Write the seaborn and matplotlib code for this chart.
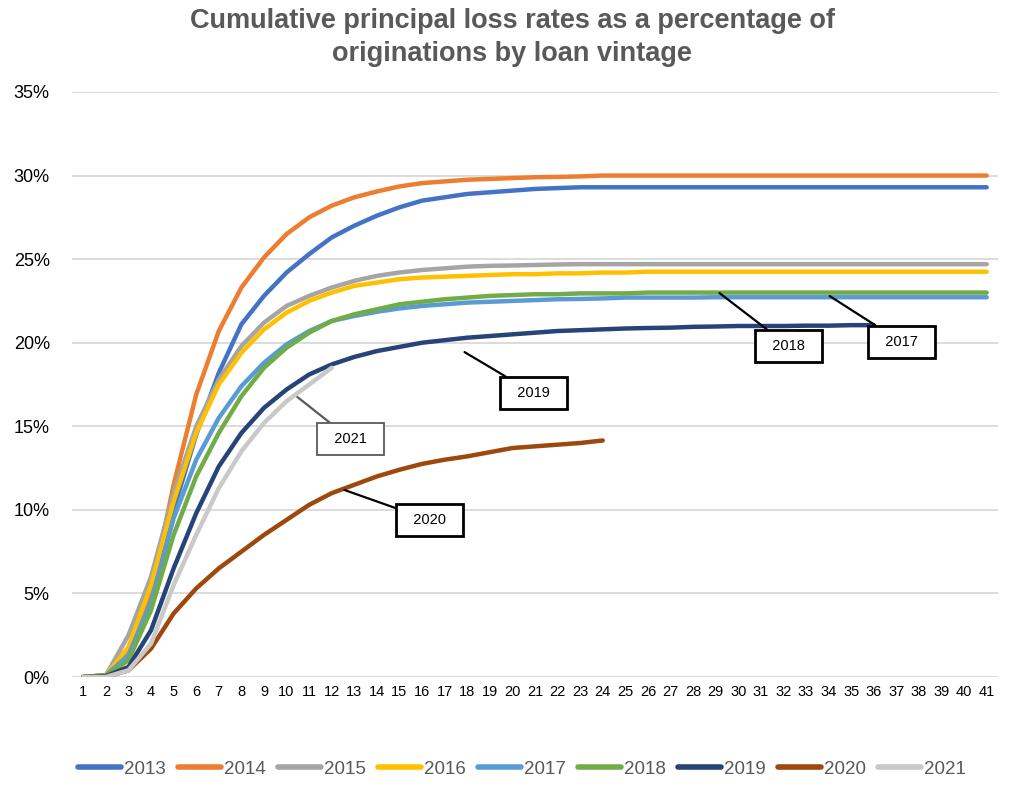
import numpy as np
import pandas as pd
import matplotlib
matplotlib.use("Agg")
import matplotlib.pyplot as plt
import seaborn as sns

months = list(range(1, 42))

v2013 = [0.0, 0.1, 1.5, 5.0, 10.0, 14.5, 18.2, 21.1, 22.8, 24.2, 25.3, 26.3, 27.0, 27.6, 28.1, 28.5,
         28.7, 28.9, 29.0, 29.1, 29.2, 29.25, 29.3, 29.3, 29.3, 29.3, 29.3, 29.3, 29.3, 29.3, 29.3,
         29.3, 29.3, 29.3, 29.3, 29.3, 29.3, 29.3, 29.3, 29.3, 29.3]
v2014 = [0.0, 0.1, 1.5, 5.0, 11.5, 16.9, 20.7, 23.3, 25.1, 26.5, 27.5, 28.2, 28.7, 29.05, 29.35, 29.55,
         29.65, 29.75, 29.8, 29.85, 29.9, 29.92, 29.95, 30.0, 30.0, 30.0, 30.0, 30.0, 30.0, 30.0, 30.0,
         30.0, 30.0, 30.0, 30.0, 30.0, 30.0, 30.0, 30.0, 30.0, 30.0]
v2015 = [0.0, 0.1, 2.5, 6.0, 11.0, 15.0, 17.8, 19.8, 21.2, 22.2, 22.8, 23.3, 23.7, 24.0, 24.2, 24.35,
         24.45, 24.55, 24.6, 24.62, 24.65, 24.68, 24.7, 24.7, 24.7, 24.7, 24.7, 24.7, 24.7, 24.7, 24.7,
         24.7, 24.7, 24.7, 24.7, 24.7, 24.7, 24.7, 24.7, 24.7, 24.7]
v2016 = [0.0, 0.1, 1.8, 5.5, 10.5, 14.6, 17.5, 19.4, 20.8, 21.8, 22.5, 23.0, 23.4, 23.6, 23.8, 23.9,
         23.95, 24.0, 24.05, 24.1, 24.1, 24.15, 24.15, 24.2, 24.2, 24.25, 24.25, 24.25, 24.25, 24.25,
         24.25, 24.25, 24.25, 24.25, 24.25, 24.25, 24.25, 24.25, 24.25, 24.25, 24.25]
v2017 = [0.0, 0.1, 1.3, 4.5, 9.5, 13.0, 15.5, 17.4, 18.8, 19.9, 20.7, 21.3, 21.6, 21.85, 22.05, 22.2,
         22.3, 22.4, 22.45, 22.5, 22.55, 22.6, 22.62, 22.65, 22.7, 22.7, 22.7, 22.7, 22.72, 22.72, 22.72,
         22.72, 22.72, 22.72, 22.72, 22.72, 22.72, 22.72, 22.72, 22.72, 22.72]
v2018 = [0.0, 0.1, 1.0, 4.0, 8.5, 12.0, 14.6, 16.8, 18.5, 19.7, 20.6, 21.3, 21.7, 22.0, 22.3, 22.45,
         22.6, 22.7, 22.8, 22.85, 22.9, 22.9, 22.95, 22.95, 22.95, 23.0, 23.0, 23.0, 23.0, 23.0, 23.0,
         23.0, 23.0, 23.0, 23.0, 23.0, 23.0, 23.0, 23.0, 23.0, 23.0]
v2019 = [0.0, 0.05, 0.6, 2.8, 6.5, 9.8, 12.6, 14.6, 16.1, 17.2, 18.1, 18.7, 19.15, 19.5, 19.75, 20.0,
         20.15, 20.3, 20.4, 20.5, 20.6, 20.7, 20.75, 20.8, 20.85, 20.88, 20.9, 20.95, 20.97, 21.0, 21.0,
         21.0, 21.02, 21.02, 21.05, 21.05]
v2020 = [0.0, 0.0, 0.4, 1.7, 3.8, 5.3, 6.5, 7.5, 8.5, 9.4, 10.3, 11.0, 11.5, 12.0, 12.4, 12.75,
         13.0, 13.2, 13.45, 13.7, 13.8, 13.9, 14.0, 14.15]
v2021 = [0.0, 0.0, 0.4, 2.0, 5.5, 8.5, 11.3, 13.5, 15.2, 16.5, 17.5, 18.5]

vintages = ["2013", "2014", "2015", "2016", "2017", "2018", "2019", "2020", "2021"]
series = [v2013, v2014, v2015, v2016, v2017, v2018, v2019, v2020, v2021]
colors = ["#4472C4", "#ED7D31", "#A5A5A5", "#FFC000", "#5B9BD5", "#70AD47", "#264478", "#9E480E", "#C9C9C9"]

# annotation labels: point on curve and box centre (data units)
ann_labels = ["2021", "2020", "2019", "2018", "2017"]
ann_xy = [(10.48, 16.75), (12.56, 11.19), (17.88, 19.44), (29.17, 22.97), (34.05, 22.79)]
ann_text = [(12.83, 14.24), (16.33, 9.39), (20.93, 16.99), (32.23, 19.80), (37.23, 20.04)]

rows = []
for name, vals in zip(vintages, series):
    for m, v in zip(months, vals):
        rows.append({"month": m, "loss": v, "vintage": name})
df = pd.DataFrame(rows)

sns.set_theme(style="white")
plt.rcParams["font.family"] = ["Liberation Sans", "DejaVu Sans"]

fig = plt.figure(figsize=(10.24, 7.87), dpi=100)
ax = fig.add_axes([72 / 1024, 1 - 677 / 787, (998 - 72) / 1024, (677 - 92) / 787])

sns.lineplot(data=df, x="month", y="loss", hue="vintage", hue_order=vintages,
             palette=colors, linewidth=3.2, ax=ax, legend=True, sort=True,
             solid_capstyle="round")

ax.set_xlim(0.5, 41.5)
ax.set_ylim(0, 35)
ax.set_yticks(np.arange(0, 36, 5))
ax.set_yticklabels([f"{t}%" for t in range(0, 36, 5)], fontsize=13, color="#000000")
ax.set_xticks(months)
ax.set_xticklabels([str(m) for m in months], fontsize=10.5, color="#000000")
ax.tick_params(axis="both", length=0, pad=6)
ax.tick_params(axis="y", pad=16)
ax.yaxis.grid(True, color="#D9D9D9", linewidth=1.3)
ax.xaxis.grid(False)
ax.set_axisbelow(True)
for s in ax.spines.values():
    s.set_visible(False)
ax.set_xlabel("")
ax.set_ylabel("")

for lab, xy, xt in zip(ann_labels, ann_xy, ann_text):
    ec = "#595959" if lab == "2021" else "black"
    lw = 1.3 if lab == "2021" else 2.0
    ax.annotate(f"  {lab}  ", xy=xy, xytext=xt, textcoords="data", ha="center", va="center",
                fontsize=10.5, color="black",
                bbox=dict(boxstyle="square,pad=0.6", fc="white", ec=ec, lw=lw),
                arrowprops=dict(arrowstyle="-", color=ec, lw=1.6, shrinkA=0, shrinkB=0))

leg = ax.legend(loc="center", bbox_to_anchor=(0.486, -0.158), ncol=9, frameon=False,
                fontsize=13.5, handlelength=2.3, columnspacing=0.65, handletextpad=0.15)
for line in leg.get_lines():
    line.set_linewidth(4)
    line.set_solid_capstyle("round")
for t in leg.get_texts():
    t.set_color("#595959")

fig.text(0.5, 1 - 21 / 787, "Cumulative principal loss rates as a percentage of",
         ha="center", va="center", fontsize=19.5, fontweight="bold", color="#595959")
fig.text(0.5, 1 - 54 / 787, "originations by loan vintage",
         ha="center", va="center", fontsize=19.5, fontweight="bold", color="#595959")

fig.savefig("out.png", dpi=100)
